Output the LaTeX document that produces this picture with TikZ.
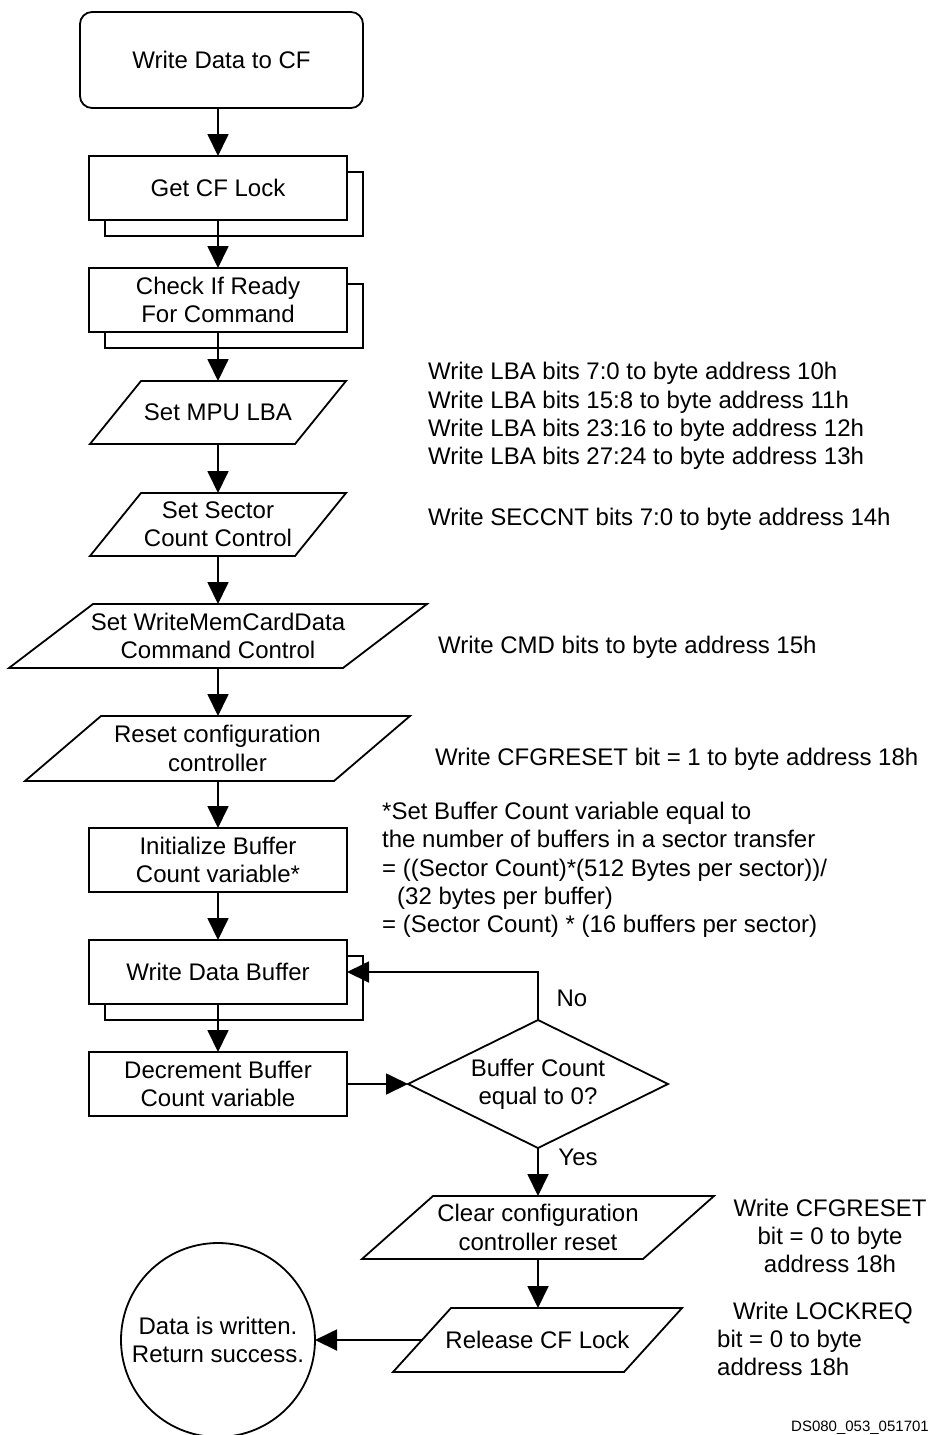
\documentclass[tikz,border=0pt]{standalone}
\usepackage{fontspec}
\setmainfont{Liberation Sans}
\usetikzlibrary{arrows.meta,shadows,calc}
\newcommand\drawpara[2]{\draw[thickline] ([xshift=#2]#1.north west) -- (#1.north east) -- ([xshift=-#2]#1.south east) -- (#1.south west) -- cycle;}
\begin{document}
\begin{tikzpicture}[x=1pt,y=-1pt,
  thickline/.style={line width=1.8pt, line join=miter},
  txt/.style={font=\fontsize{24}{28.3}\selectfont, align=center, inner sep=0pt, outer sep=0pt},
  arr/.style={thickline, -{Triangle[length=22pt,width=21pt]}},
  procbox/.style={txt, draw, thickline, fill=white, minimum width=258pt, minimum height=64pt},
  subbox/.style={procbox, general shadow={shadow xshift=16pt, shadow yshift=-16pt, draw=black, fill=white, line width=1.8pt}},
  parabox/.style n args={2}{txt, minimum width=#1, minimum height=#2},
  note/.style={font=\fontsize{24}{28.3}\selectfont, align=left, inner sep=0pt, anchor=west},
]
\useasboundingbox (0,0) rectangle (932,1435);

% flow nodes
\node[txt, draw, thickline, rounded corners=12pt, minimum width=283pt, minimum height=96pt] (start) at (221.5,60) {Write Data to CF};
\node[subbox] (lock) at (218,188) {Get CF Lock};
\node[subbox] (chk) at (218,300) {Check If Ready\\For Command};
\node[parabox={256pt}{63pt}] (mpu) at (218,412.5) {Set MPU LBA};
\drawpara{mpu}{51pt}
\node[parabox={256pt}{63pt}] (sec) at (218,524.5) {Set Sector\\Count Control};
\drawpara{sec}{51pt}
\node[parabox={418pt}{64pt}] (cmd) at (218,636) {Set WriteMemCardData\\Command Control};
\drawpara{cmd}{84pt}
\node[parabox={385pt}{65pt}] (rst) at (217.5,748.5) {Reset configuration\\controller};
\drawpara{rst}{76pt}
\node[procbox] (init) at (218,860) {Initialize Buffer\\Count variable*};
\node[subbox] (wdb) at (218,972) {Write Data Buffer};
\node[procbox] (dec) at (218,1084) {Decrement Buffer\\Count variable};
\node[txt, minimum width=260pt, minimum height=128pt] (dia) at (538,1084) {Buffer Count\\equal to 0?};
\draw[thickline] (dia.north) -- (dia.east) -- (dia.south) -- (dia.west) -- cycle;
\node[parabox={352pt}{63pt}] (clr) at (538,1227.5) {Clear configuration\\controller reset};
\drawpara{clr}{71pt}
\node[parabox={289pt}{64pt}] (rel) at (537.5,1340) {Release CF Lock};
\drawpara{rel}{58pt}
\node[txt, draw, thickline, circle, minimum size=194pt] (done) at (218,1340) {Data is written.\\Return success.};

% connectors
\draw[arr] (start.south -| lock.north) -- (lock.north);
\draw[arr] (lock.south) -- (chk.north);
\draw[arr] (chk.south) -- (mpu.north);
\draw[arr] (mpu.south) -- (sec.north);
\draw[arr] (sec.south) -- (cmd.north);
\draw[arr] (cmd.south) -- (cmd.south |- rst.north);
\draw[arr] (rst.south -| init.north) -- (init.north);
\draw[arr] (init.south) -- (wdb.north);
\draw[arr] (wdb.south) -- (dec.north);
\draw[arr] (dec.east) -- (dia.west);
\draw[arr] (dia.north) |- (wdb.east);
\draw[arr] (dia.south) -- (clr.north);
\draw[arr] (clr.south) -- (clr.south |- rel.north);
\coordinate (relL) at ($(rel.west)+(29pt,0)$);
\draw[arr] (relL) -- (done.east);

% labels
\node[txt] (no) at (572,998) {No};
\node[txt] (yes) at (578,1157) {Yes};

% notes
\node[note] (n1) at (428,416) {Write LBA bits 7:0 to byte address 10h\\Write LBA bits 15:8 to byte address 11h\\Write LBA bits 23:16 to byte address 12h\\Write LBA bits 27:24 to byte address 13h};
\node[note] (n2) at (428,519) {Write SECCNT bits 7:0 to byte address 14h};
\node[note] (n3) at (438,647) {Write CMD bits to byte address 15h};
\node[note] (n4) at (435,759) {Write CFGRESET bit = 1 to byte address 18h};
\node[note] (n5) at (382,870) {*Set Buffer Count variable equal to\\the number of buffers in a sector transfer\\= ((Sector Count)*(512 Bytes per sector))/\\\hspace*{15pt}(32 bytes per buffer)\\= (Sector Count) * (16 buffers per sector)};
\node[txt] (n6) at (830,1236) {Write CFGRESET\\bit = 0 to byte\\address 18h};
\node[note] (n7) at (717,1339) {\hspace*{16pt}Write LOCKREQ\\bit = 0 to byte\\address 18h};
\node[font=\fontsize{15}{18}\selectfont, anchor=base east, inner sep=0pt] (ds) at (929,1431) {DS080\_053\_051701};
\end{tikzpicture}
\end{document}
